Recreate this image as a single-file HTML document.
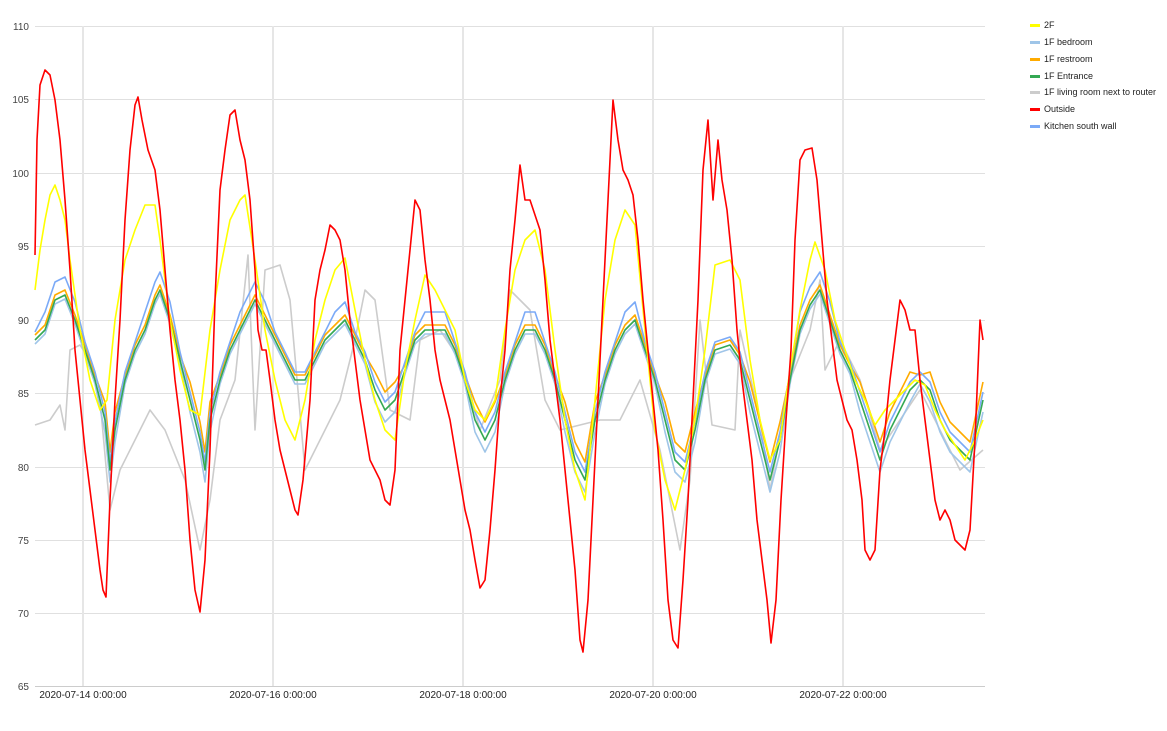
<!DOCTYPE html>
<html><head><meta charset="utf-8"><style>
body{margin:0;background:#fff;font-family:"Liberation Sans",Arial,sans-serif}
svg text{font-family:"Liberation Sans",Arial,sans-serif}
</style></head><body>
<svg id="s" width="1167" height="726" xmlns="http://www.w3.org/2000/svg">
<rect width="1167" height="726" fill="#fff"/>
<g stroke="#e0e0e0" stroke-width="1">
<line x1="35" x2="985" y1="26.5" y2="26.5"/><line x1="35" x2="985" y1="99.5" y2="99.5"/>
<line x1="35" x2="985" y1="173.5" y2="173.5"/><line x1="35" x2="985" y1="246.5" y2="246.5"/>
<line x1="35" x2="985" y1="320.5" y2="320.5"/><line x1="35" x2="985" y1="393.5" y2="393.5"/>
<line x1="35" x2="985" y1="467.5" y2="467.5"/><line x1="35" x2="985" y1="540.5" y2="540.5"/>
<line x1="35" x2="985" y1="613.5" y2="613.5"/>
</g>
<g stroke="#e6e6e6" stroke-width="2">
<line x1="83" x2="83" y1="26" y2="686"/><line x1="273" x2="273" y1="26" y2="686"/>
<line x1="463" x2="463" y1="26" y2="686"/><line x1="653" x2="653" y1="26" y2="686"/>
<line x1="843" x2="843" y1="26" y2="686"/>
</g>
<line x1="35" x2="985" y1="686.5" y2="686.5" stroke="#ccc"/>
<g font-size="10" fill="#444" text-anchor="end">
<text x="29" y="30">110</text><text x="29" y="103">105</text><text x="29" y="177">100</text>
<text x="29" y="250">95</text><text x="29" y="324">90</text><text x="29" y="397">85</text>
<text x="29" y="471">80</text><text x="29" y="544">75</text><text x="29" y="617">70</text><text x="29" y="690">65</text>
</g>
<g font-size="10" fill="#222" text-anchor="middle">
<text x="83" y="698">2020-07-14 0:00:00</text><text x="273" y="698">2020-07-16 0:00:00</text>
<text x="463" y="698">2020-07-18 0:00:00</text><text x="653" y="698">2020-07-20 0:00:00</text>
<text x="843" y="698">2020-07-22 0:00:00</text>
</g>
<g id="series" fill="none" stroke-width="1.6" stroke-linejoin="round"></g>
<g font-size="9" fill="#222">
<rect x="1030" y="24" width="10" height="3" fill="#ffff00"/><text x="1044" y="28">2F</text>
<rect x="1030" y="41" width="10" height="3" fill="#9fc5e8"/><text x="1044" y="45">1F bedroom</text>
<rect x="1030" y="58" width="10" height="3" fill="#ffab00"/><text x="1044" y="62">1F restroom</text>
<rect x="1030" y="75" width="10" height="3" fill="#34a853"/><text x="1044" y="79">1F Entrance</text>
<rect x="1030" y="91" width="10" height="3" fill="#cccccc"/><text x="1044" y="95">1F living room next to router</text>
<rect x="1030" y="108" width="10" height="3" fill="#ff0000"/><text x="1044" y="112">Outside</text>
<rect x="1030" y="125" width="10" height="3" fill="#7baaf7"/><text x="1044" y="129">Kitchen south wall</text>
</g>
</svg>
<script>
const red=[35,255,37,140,40,85,45,70,50,75,55,100,60,140,65,200,70,270,75,350,80,400,85,450,90,490,95,530,100,570,103,590,106,597,110,500,115,400,120,320,125,220,130,150,135,105,138,97,142,120,148,150,155,170,160,210,165,270,170,330,175,380,180,420,185,470,190,540,195,590,200,612,205,560,210,450,215,300,220,190,225,150,230,115,235,110,240,140,245,160,250,200,255,270,258,330,262,350,266,350,270,380,275,420,280,450,285,470,290,490,295,510,298,515,303,480,310,400,315,300,320,270,325,250,330,225,335,230,340,240,345,270,350,320,355,360,360,400,365,430,370,460,375,470,380,480,385,500,390,505,395,470,400,350,405,300,410,250,415,200,420,210,425,260,430,300,435,350,440,380,445,400,450,420,455,450,460,480,465,510,470,530,475,560,480,588,485,580,490,530,495,470,500,400,505,350,510,270,515,220,520,165,525,200,530,200,535,215,540,230,545,280,550,340,555,380,560,420,565,470,570,520,575,570,580,640,583,652,588,600,593,500,598,400,603,300,608,200,613,100,618,140,623,170,628,180,633,195,638,240,643,300,648,350,653,400,658,450,663,520,668,600,673,640,678,648,683,580,688,500,693,400,698,300,703,170,708,120,713,200,718,140,722,180,727,210,732,260,737,330,742,380,747,420,752,460,757,520,762,560,767,600,771,643,776,600,781,500,786,420,791,350,795,240,800,160,805,150,812,148,817,180,822,240,827,300,832,340,837,380,842,400,847,420,852,430,857,460,862,500,865,550,870,560,875,550,880,470,885,430,890,380,895,340,900,300,905,310,910,330,915,330,920,380,925,420,930,460,935,500,940,520,945,510,950,520,955,540,960,545,965,550,970,530,975,440,980,320,983,340];
const yel=[35,290,40,250,45,220,50,195,55,185,60,200,65,220,70,260,80,330,90,380,100,410,107,400,115,320,125,260,135,230,145,205,155,205,160,240,170,320,180,370,190,410,200,415,210,330,220,270,230,220,240,200,245,195,255,260,265,330,275,380,285,420,295,440,305,400,315,340,325,300,335,270,345,258,355,310,365,360,375,400,385,430,395,440,405,370,415,320,425,275,435,290,445,310,455,330,465,380,475,410,485,420,495,400,505,330,515,270,525,240,535,230,545,270,555,350,565,420,575,470,585,500,595,400,605,300,615,240,625,210,635,225,645,330,655,430,665,480,675,510,685,470,695,420,705,350,715,265,730,260,740,280,750,360,760,420,770,460,780,440,790,370,800,310,810,260,815,242,825,270,835,320,845,350,855,380,865,400,875,425,885,410,895,400,905,390,915,380,925,385,935,410,945,430,955,445,965,460,975,440,983,420];
const grn=[35,340,45,330,55,300,65,295,75,320,85,350,95,380,105,420,110,470,115,430,125,380,135,350,145,330,155,300,160,290,170,320,180,360,190,400,200,440,205,470,210,420,220,380,230,350,240,330,250,310,255,300,265,320,275,340,285,360,295,380,305,380,315,360,325,340,335,330,345,320,355,340,365,360,375,390,385,410,395,400,405,370,415,340,425,330,435,330,445,330,455,350,465,380,475,420,485,440,495,420,505,380,515,350,525,330,535,330,545,350,555,380,565,420,575,460,585,480,595,420,605,380,615,350,625,330,635,320,645,350,655,380,665,420,675,460,685,470,695,430,705,380,715,350,730,345,740,360,750,400,760,440,770,480,780,440,790,380,800,330,810,305,820,290,830,320,840,350,850,370,860,400,870,430,880,460,890,430,900,410,910,390,920,380,930,390,940,420,950,440,960,450,970,460,983,400];
const gry=[35,425,50,420,60,405,65,430,70,350,80,345,90,360,100,400,110,510,120,470,135,440,150,410,165,430,185,480,200,550,210,500,220,420,235,380,248,255,255,430,265,270,280,265,290,300,305,470,320,440,340,400,355,340,365,290,375,300,390,410,410,420,420,340,440,330,460,360,480,430,500,380,510,290,530,310,545,400,560,430,580,425,600,420,620,420,640,380,660,450,680,550,690,480,700,320,712,425,735,430,740,330,760,420,770,490,790,380,810,330,820,280,825,370,840,340,860,380,880,450,900,420,920,390,940,430,960,470,983,450];
function pts(a,f){let s=[];for(let i=0;i<a.length;i+=2){s.push(a[i]+','+(f?f(a[i+1],a[i]):a[i+1]).toFixed(1));}return s.join(' ');}
const g=document.getElementById('series');
function add(a,c,f,w){const p=document.createElementNS('http://www.w3.org/2000/svg','polyline');p.setAttribute('points',pts(a,f));p.setAttribute('stroke',c);if(w)p.setAttribute('stroke-width',w);g.appendChild(p);}
add(gry,'#cccccc');
add(grn,'#9fc5e8',(y)=>y+ (y>380?12:4));
add(grn,'#ffab00',(y)=>y>380?y-18:y-5);
add(grn,'#7baaf7',(y)=>y<340?y-18:y-8);
add(grn,'#34a853');
add(yel,'#ffff00');
add(red,'#ff0000');
</script>
</body></html>
